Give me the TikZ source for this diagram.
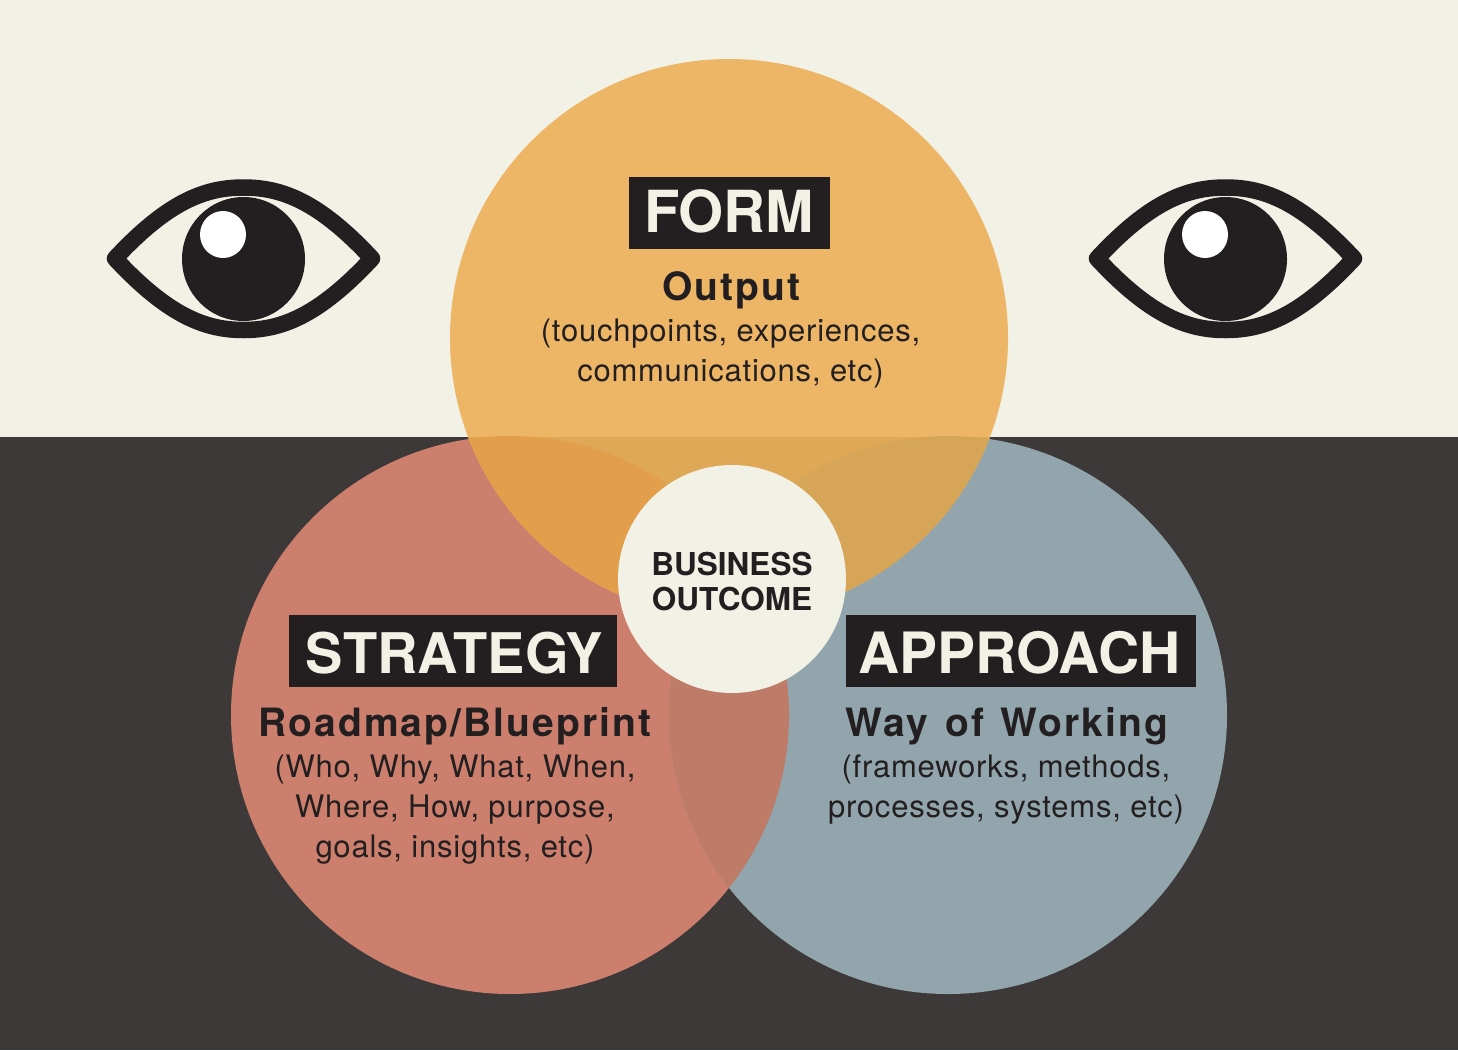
\documentclass[tikz,border=0pt]{standalone}
\usepackage{fontspec}
\setmainfont{TeX Gyre Heros}
\newfontfamily\bodyfont[LetterSpace=2.5]{TeX Gyre Heros}
\newfontfamily\subfont[LetterSpace=5.4,WordSpace=1.3,BoldFont={* Bold}]{TeX Gyre Heros}
\usepackage{xcolor}
\usepackage{tikz}

\definecolor{paper}{HTML}{F1F1E5}
\definecolor{slate}{HTML}{3D3938}
\definecolor{ink}{HTML}{231F20}
\definecolor{formfill}{HTML}{EDB667}
\definecolor{formdark}{HTML}{DEA856}
\definecolor{stratfill}{HTML}{CB7F6C}
\definecolor{appfill}{HTML}{92A5AC}
\definecolor{stratapp}{HTML}{BD7B68}
\definecolor{formstrat}{HTML}{E39E4B}
\definecolor{formapp}{HTML}{D7A557}

\tikzset{
    headbox/.style={fill=ink, inner sep=0pt, minimum height=72pt},
    headtext/.style={text=paper, inner sep=0pt, text height=41pt, text depth=0pt, font=\bfseries\fontsize{#1}{#1}\selectfont},
    subhead/.style={text=ink, inner sep=0pt, font=\subfont\bfseries\fontsize{39}{39}\selectfont},
    bodytext/.style={text=ink, inner sep=0pt, align=center, font=\bodyfont\fontsize{31}{40}\selectfont},
}

\begin{document}
\begin{tikzpicture}[x=1pt, y=-1pt]
    \useasboundingbox (0,0) rectangle (1458,1050);
    \fill[paper] (0,0) rectangle (1458,437);
    \fill[slate] (0,437) rectangle (1458,1050);

    \fill[stratfill] (510,715) circle (279);
    \fill[appfill] (948,715) circle (279);
    \begin{scope}
        \clip (510,715) circle (279);
        \fill[stratapp] (948,715) circle (279);
    \end{scope}

    \fill[formfill] (729,338) circle (279);
    \begin{scope}
        \clip (729,338) circle (279);
        \fill[formdark] (0,437) rectangle (1458,1050);
        \fill[formstrat] (510,715) circle (279);
        \fill[formapp] (948,715) circle (279);
    \end{scope}

    \fill[paper] (732,579) circle (114);

    % the two eyes
    \foreach \ex in {243.5,1225.5} {
        \draw[ink, line width=16.5pt, line join=round] (\ex-128.5,258.5)
            .. controls (\ex-75,201) and (\ex-38,187.5) .. (\ex,187.5)
            .. controls (\ex+38,187.5) and (\ex+75,201) .. (\ex+128.5,258.5)
            .. controls (\ex+75,316) and (\ex+38,330) .. (\ex,330)
            .. controls (\ex-38,330) and (\ex-75,316) .. cycle;
        \fill[ink] (\ex,259) ellipse (61.5 and 62);
        \fill[white] (\ex-20.5,234.5) ellipse (23 and 23.5);
    }

    \node[headbox, minimum width=201pt] (formbox) at (729.5,213) {};
    \node[headtext=58] (form) at (729,212) {FORM};
    \node[subhead] (output) at (731.5,290.5) {Output};
    \node[bodytext] (outputtxt) at (730.5,353) {(touchpoints, experiences,\\communications, etc)};

    \node[headbox, minimum width=328pt] (strategybox) at (453,651) {};
    \node[headtext=56] (strategy) at (454.5,653) {STRATEGY};
    \node[subhead] (roadmap) at (455,726.5) {Roadmap/Blueprint};
    \node[bodytext] (roadmaptxt) at (455,810) {(Who, Why, What, When,\\Where, How, purpose,\\goals, insights, etc)};

    \node[headbox, minimum width=350pt] (approachbox) at (1021,651) {};
    \node[headtext=57] (approach) at (1019.5,653) {APPROACH};
    \node[subhead] (way) at (1007,726.5) {Way of Working};
    \node[bodytext] (waytxt) at (1006,790) {(frameworks, methods,\\processes, systems, etc)};

    \node[text=ink, inner sep=0pt, align=center, font=\bfseries\fontsize{31.5}{35}\selectfont] (outcome) at (732,581.5) {BUSINESS\\OUTCOME};
\end{tikzpicture}
\end{document}
